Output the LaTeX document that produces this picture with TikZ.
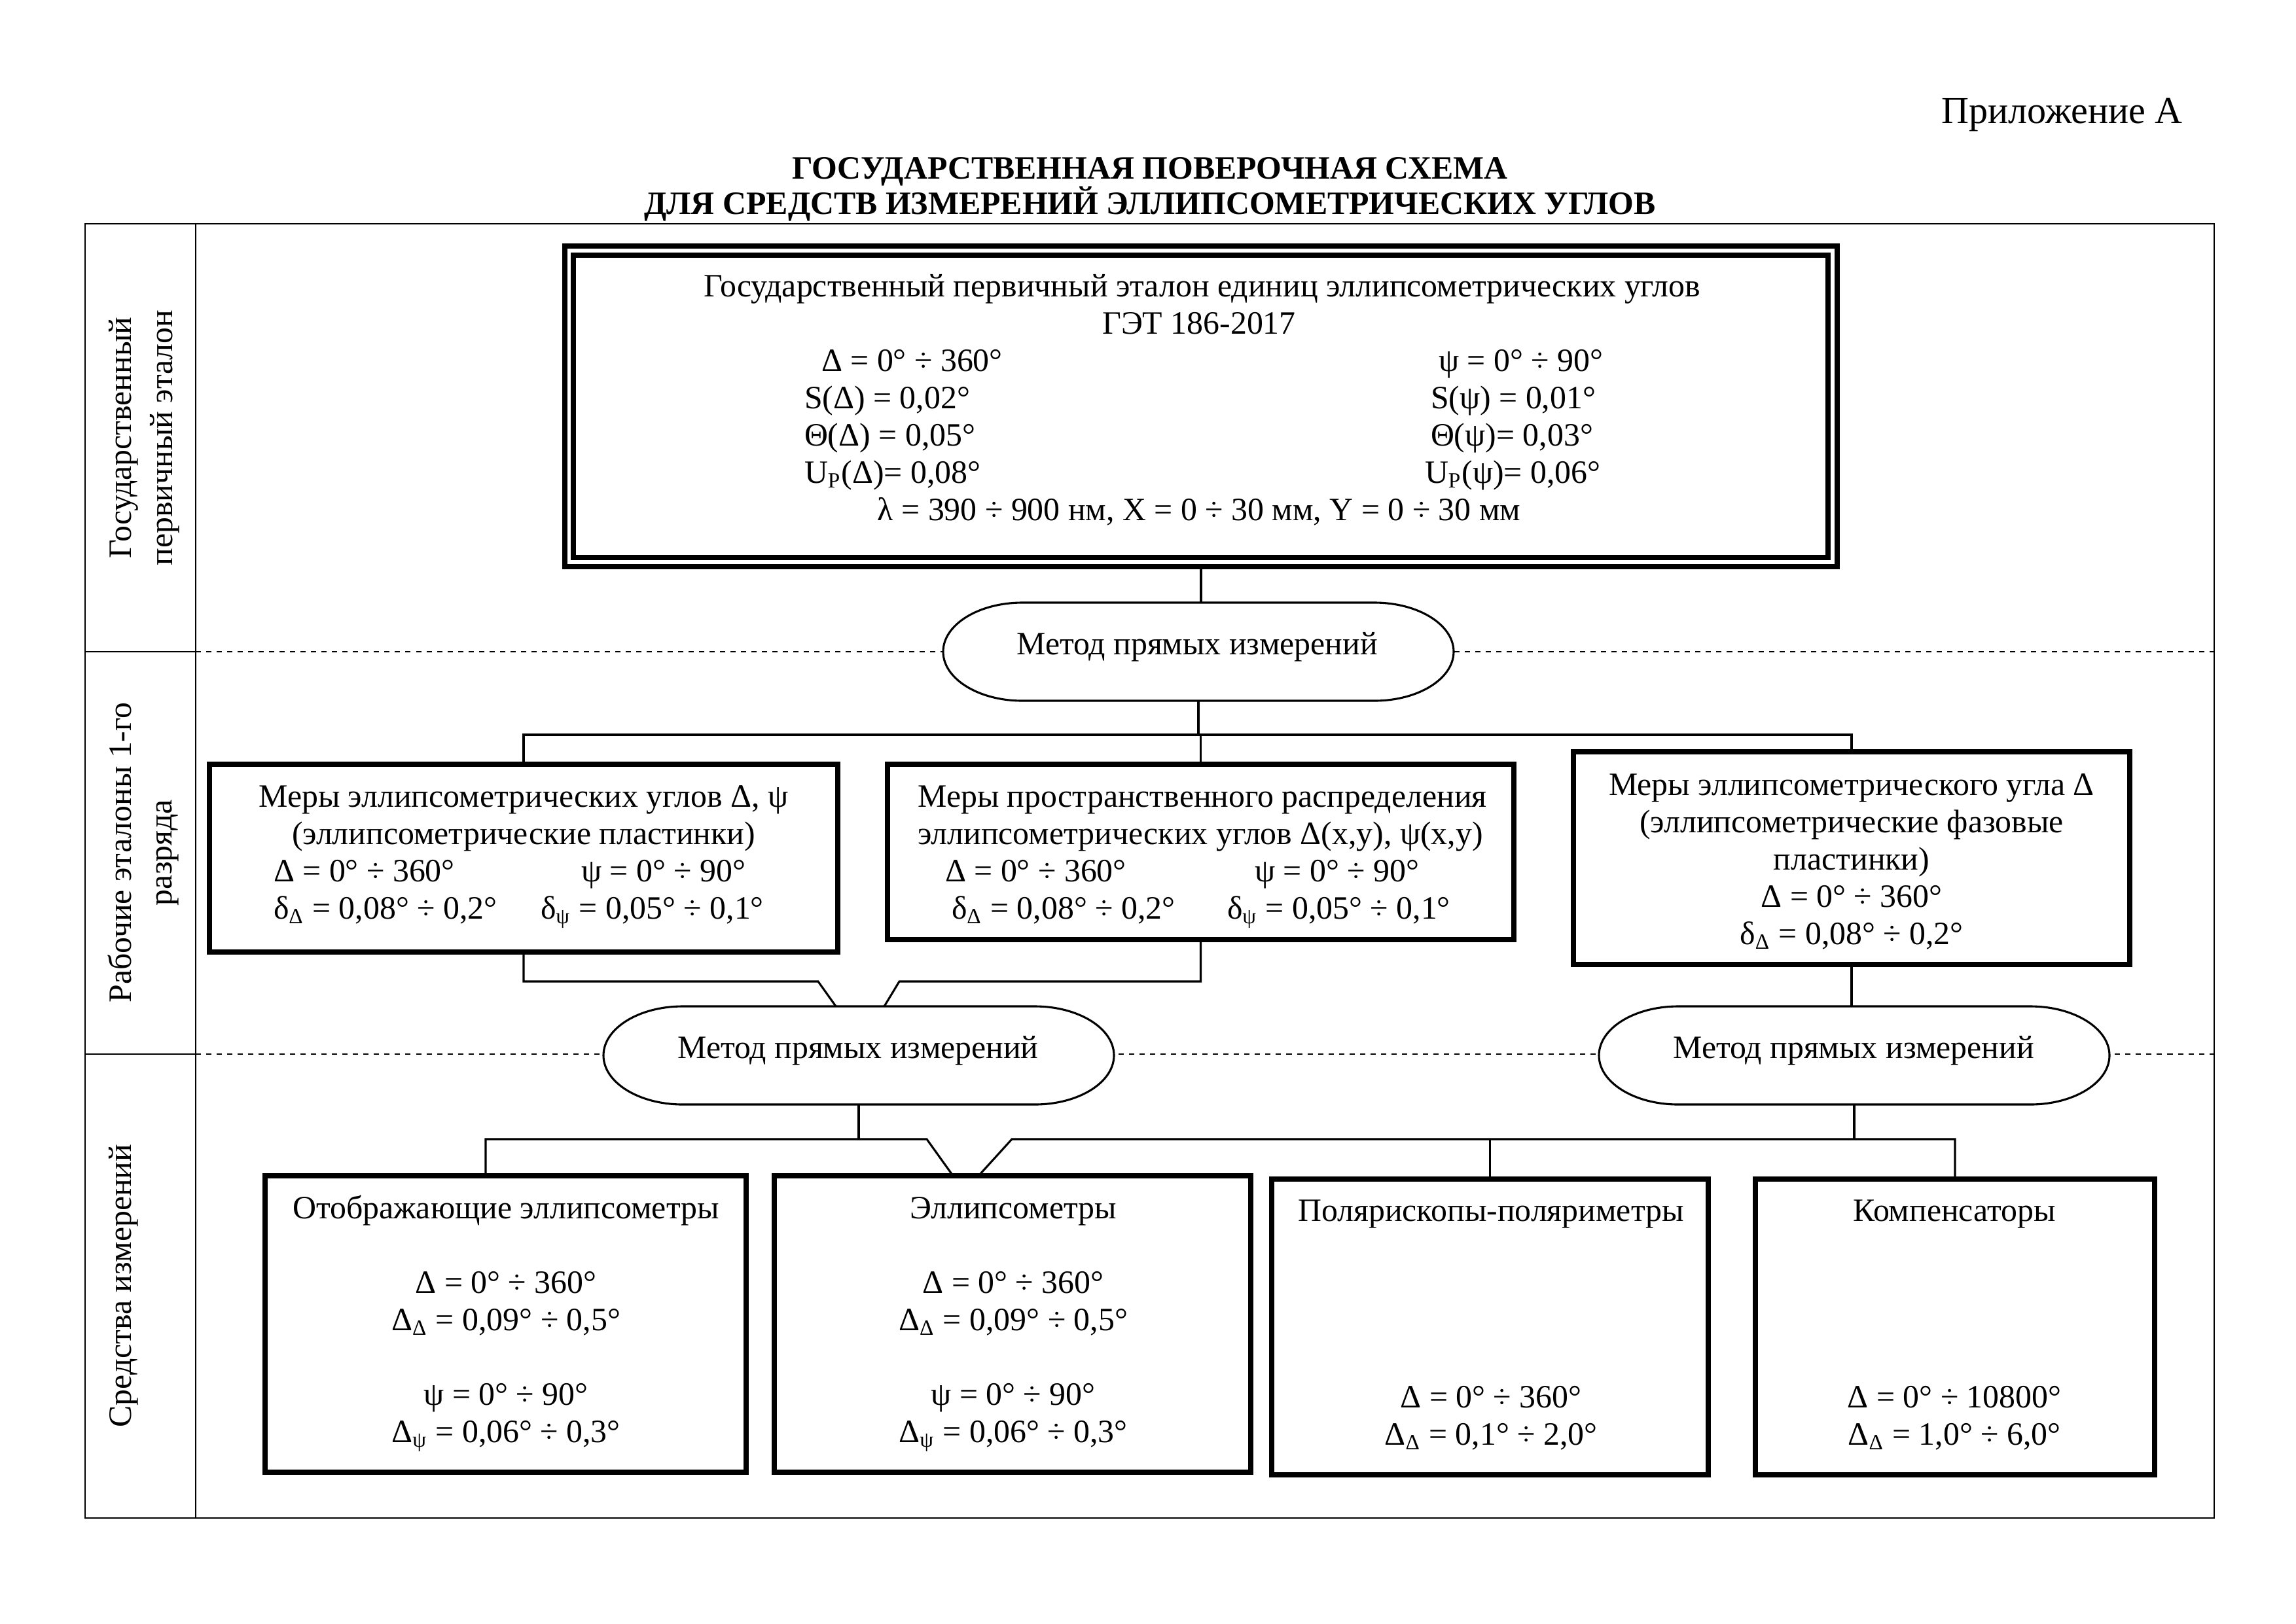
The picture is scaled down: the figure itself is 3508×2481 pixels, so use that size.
\documentclass[tikz,border=0pt]{standalone}
\usepackage{fontspec}
\setmainfont{Liberation Serif}
\usetikzlibrary{fit}
\newcommand\stadium[2]{\begin{scope}[shift={(#1,#2)}]
 \draw[ovalline] (-269,-75) -- (269,-75) .. controls (335.8,-75) and (390,-41.4) .. (390,0) .. controls (390,41.4) and (335.8,75) .. (269,75) -- (-269,75) .. controls (-335.8,75) and (-390,41.4) .. (-390,0) .. controls (-390,-41.4) and (-335.8,-75) .. (-269,-75) -- cycle;
\end{scope}}
\begin{document}
\begin{tikzpicture}[x=0.24089pt,y=-0.24089pt,
 every node/.style={inner sep=0pt, outer sep=0pt},
 txt/.style={font=\fontsize{12}{13.7}\selectfont, anchor=base},
 txtw/.style={txt, anchor=base west},
 lbl/.style={font=\fontsize{12}{13.7}\selectfont, rotate=90, anchor=base},
 boxline/.style={draw, line width=1.8pt},
 dblline/.style={draw, line width=1.85pt},
 thinline/.style={line width=0.7pt},
 conn/.style={line width=0.75pt},
 ovalline/.style={line width=0.75pt, fill=white},
 sepline/.style={line width=0.6pt, dash pattern=on 1.93pt off 1.93pt}]
\useasboundingbox[fill=white] (0,0) rectangle (3508,2481);

% header
\node[txt, anchor=base east, font=\fontsize{14}{16}\selectfont] (app) at (3335,188) {Приложение А};
\node[txt, font=\bfseries\fontsize{12}{13.7}\selectfont] (ti1) at (1757,273) {ГОСУДАРСТВЕННАЯ ПОВЕРОЧНАЯ СХЕМА};
\node[txt, font=\bfseries\fontsize{12}{13.7}\selectfont] (ti2) at (1757,327) {ДЛЯ СРЕДСТВ ИЗМЕРЕНИЙ ЭЛЛИПСОМЕТРИЧЕСКИХ УГЛОВ};

% table frame
\draw[thinline] (130,342) rectangle (3383,2320);
\draw[thinline] (299,342) -- (299,2320);
\draw[thinline] (130,996) -- (299,996);
\draw[thinline] (130,1611) -- (299,1611);
\draw[sepline] (299,996) -- (3383,996);
\draw[sepline] (299,1611) -- (3383,1611);

% row labels
\node[lbl] (l1a) at (200,669) {Государственный};
\node[lbl] (l1b) at (263,669) {первичный эталон};
\node[lbl] (l2a) at (200,1303) {Рабочие эталоны 1-го};
\node[lbl] (l2b) at (262,1303) {разряда};
\node[lbl] (l3a) at (200,1965) {Средства измерений};

% primary standard box (double frame)
\node[dblline, fit={(863,376) (2807,866)}] (topbox) {};
\node[dblline, fit={(876,390) (2793,852)}] (topin) {};
\node[txt] (p1) at (1837,453) {Государственный первичный эталон единиц эллипсометрических углов};
\node[txt] (p2) at (1832,510) {ГЭТ 186-2017};
\node[txtw] (p3a) at (1255,567) {Δ = 0° ÷ 360°};
\node[txtw] (p3b) at (2198,567) {ψ = 0° ÷ 90°};
\node[txtw] (p4a) at (1229,624) {S(Δ) = 0,02°};
\node[txtw] (p4b) at (2186,624) {S(ψ) = 0,01°};
\node[txtw] (p5a) at (1229,681) {Θ(Δ) = 0,05°};
\node[txtw] (p5b) at (2186,681) {Θ(ψ)= 0,03°};
\node[txtw] (p6a) at (1229,738) {U\textsubscript{P}(Δ)= 0,08°};
\node[txtw] (p6b) at (2177,738) {U\textsubscript{P}(ψ)= 0,06°};
\node[txt] (p7) at (1832,795) {λ = 390 ÷ 900 нм, X = 0 ÷ 30 мм, Y = 0 ÷ 30 мм};

% working standards
\node[boxline, fit={(320,1168) (1280,1455)}] (boxA) {};
\node[txt] (a1) at (800,1233) {Меры эллипсометрических углов Δ, ψ};
\node[txt] (a2) at (800,1290) {(эллипсометрические пластинки)};
\node[txtw] (a3a) at (418,1347) {Δ = 0° ÷ 360°};
\node[txtw] (a3b) at (888,1347) {ψ = 0° ÷ 90°};
\node[txtw] (a4a) at (418,1404) {δ\textsubscript{Δ} = 0,08° ÷ 0,2°};
\node[txtw] (a4b) at (826,1404) {δ\textsubscript{ψ} = 0,05° ÷ 0,1°};

\node[boxline, fit={(1356,1168) (2313,1436)}] (boxB) {};
\node[txt] (b1) at (1837,1233) {Меры пространственного распределения};
\node[txt] (b2) at (1834,1290) {эллипсометрических углов Δ(x,y), ψ(x,y)};
\node[txtw] (b3a) at (1444,1347) {Δ = 0° ÷ 360°};
\node[txtw] (b3b) at (1917,1347) {ψ = 0° ÷ 90°};
\node[txtw] (b4a) at (1454,1404) {δ\textsubscript{Δ} = 0,08° ÷ 0,2°};
\node[txtw] (b4b) at (1875,1404) {δ\textsubscript{ψ} = 0,05° ÷ 0,1°};

\node[boxline, fit={(2404,1149) (3254,1474)}] (boxC) {};
\node[txt] (c1) at (2829,1215) {Меры эллипсометрического угла Δ};
\node[txt] (c2) at (2829,1272) {(эллипсометрические фазовые};
\node[txt] (c3) at (2829,1329) {пластинки)};
\node[txt] (c4) at (2829,1386) {Δ = 0° ÷ 360°};
\node[txt] (c5) at (2829,1443) {δ\textsubscript{Δ} = 0,08° ÷ 0,2°};

% measuring instruments
\node[boxline, fit={(405,1797) (1140,2250)}] (boxD) {};
\node[txt] (d1) at (773,1862) {Отображающие эллипсометры};
\node[txt] (d2) at (773,1976) {Δ = 0° ÷ 360°};
\node[txt] (d3) at (773,2033) {Δ\textsubscript{Δ} = 0,09° ÷ 0,5°};
\node[txt] (d4) at (773,2147) {ψ = 0° ÷ 90°};
\node[txt] (d5) at (773,2204) {Δ\textsubscript{ψ} = 0,06° ÷ 0,3°};

\node[boxline, fit={(1183,1797) (1911,2250)}] (boxE) {};
\node[txt] (e1) at (1548,1862) {Эллипсометры};
\node[txt] (e2) at (1548,1976) {Δ = 0° ÷ 360°};
\node[txt] (e3) at (1548,2033) {Δ\textsubscript{Δ} = 0,09° ÷ 0,5°};
\node[txt] (e4) at (1548,2147) {ψ = 0° ÷ 90°};
\node[txt] (e5) at (1548,2204) {Δ\textsubscript{ψ} = 0,06° ÷ 0,3°};

\node[boxline, fit={(1943,1802) (2610,2254)}] (boxF) {};
\node[txt] (f1) at (2278,1866) {Полярископы-поляриметры};
\node[txt] (f2) at (2278,2151) {Δ = 0° ÷ 360°};
\node[txt] (f3) at (2278,2208) {Δ\textsubscript{Δ} = 0,1° ÷ 2,0°};

\node[boxline, fit={(2682,1802) (3292,2254)}] (boxG) {};
\node[txt] (g1) at (2986,1866) {Компенсаторы};
\node[txt] (g2) at (2986,2151) {Δ = 0° ÷ 10800°};
\node[txt] (g3) at (2986,2208) {Δ\textsubscript{Δ} = 1,0° ÷ 6,0°};

% connector helper points
\coordinate (bus1) at (0,1123);
\coordinate (vA) at (1250,1500);
\coordinate (vB) at (1374,1500);
\coordinate (bus3) at (0,1741);
\coordinate (vD) at (1416,1741);
\coordinate (vE) at (1546,1741);
\coordinate (dx) at (742,0);

% ovals
\node[fit={(1441,921) (2221,1071)}] (o1) {};
\node[fit={(922,1538) (1702,1688)}] (o2) {};
\node[fit={(2443,1538) (3223,1688)}] (o3) {};

\draw[conn] (topbox.south) -- (topbox.south |- o1.north);
\draw[conn] (o1.south) -- (o1.south |- bus1);
\draw[conn] (boxA.north) |- (bus1 -| boxC.north) -- (boxC.north);
\draw[conn] (boxB.north) -- (boxB.north |- bus1);
\draw[conn] (boxA.south) |- (vA) -- ([xshift=-8.4pt]o2.north);
\draw[conn] (boxB.south) |- (vB) -- ([xshift=9.4pt]o2.north);
\draw[conn] (boxC.south) -- (boxC.south |- o3.north);
\draw[conn] (o2.south) -- (o2.south |- bus3);
\draw[conn] (boxD.north -| dx) |- (vD) -- ([xshift=-21.9pt]boxE.north);
\draw[conn] ([xshift=-12.5pt]boxE.north) -- (vE) -| (boxG.north);
\draw[conn] (boxF.north) -- (boxF.north |- bus3);
\draw[conn] (o3.south) -- (o3.south |- bus3);

\stadium{1831}{996}
\stadium{1312}{1613}
\stadium{2833}{1613}
\node[txt] (o1t) at (1829,1000) {Метод прямых измерений};
\node[txt] (o2t) at (1311,1617) {Метод прямых измерений};
\node[txt] (o3t) at (2832,1617) {Метод прямых измерений};
\end{tikzpicture}
\end{document}
